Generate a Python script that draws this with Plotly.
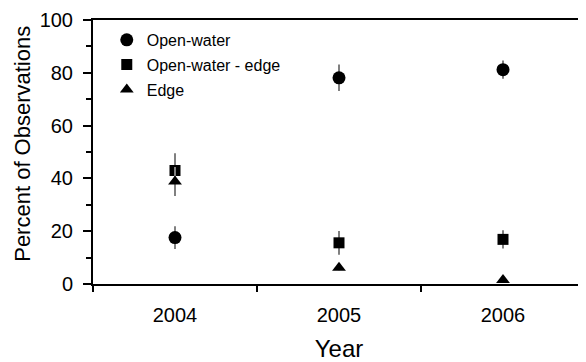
import plotly.graph_objects as go

years = [2004, 2005, 2006]
open_water = [17.6, 78.1, 81.2]
open_water_err = [4.3, 5.0, 3.5]
ow_edge = [43.0, 15.6, 16.9]
ow_edge_err = [6.5, 4.5, 3.5]
edge = [38.8, 6.2, 1.5]
edge_err = [5.5, 1.0, 0.8]

series = [
    ("Open-water", open_water, open_water_err, "circle", 13),
    ("Open-water - edge", ow_edge, ow_edge_err, "square", 11),
    ("Edge", edge, edge_err, "triangle-up", 12),
]

fig = go.Figure()
for i, (name, vals, errs, sym, sz) in enumerate(series):
    fig.add_trace(go.Scatter(
        x=years, y=vals, name=name, mode="markers",
        legendgroup=f"g{i}",
        marker=dict(symbol=sym, size=sz, color="black"),
        error_y=dict(type="data", array=errs, visible=True, color="#808080", thickness=2, width=0),
    ))

font = "Liberation Sans, Arial, Helvetica, sans-serif"
fig.update_layout(
    width=586, height=362,
    margin=dict(l=85, r=9, t=12, b=86, autoexpand=False),
    paper_bgcolor="white", plot_bgcolor="white",
    font=dict(family=font, color="black"),
    showlegend=True,
    legend=dict(x=0.028, y=0.989, xanchor="left", yanchor="top", bgcolor="rgba(0,0,0,0)",
                font=dict(size=16), tracegroupgap=1),
    xaxis=dict(
        range=[2003.5, 2006.5], tickvals=years, ticktext=[str(y) for y in years],
        ticks="outside", ticklen=0, tickfont=dict(size=20), ticklabelstandoff=12,
        showline=True, linecolor="black", linewidth=2, mirror=True, showgrid=False, zeroline=False,
        automargin=False,
        minor=dict(tick0=2003.5, dtick=1, ticks="outside", ticklen=6, tickwidth=2, tickcolor="black", showgrid=False),
        title=dict(text="Year", font=dict(size=24), standoff=15),
    ),
    yaxis=dict(
        range=[0, 100], dtick=20, ticks="outside", ticklen=8, tickwidth=2, tickcolor="black",
        tickfont=dict(size=20), ticklabelstandoff=6,
        showline=True, linecolor="black", linewidth=2, mirror=False,
        showgrid=False, zeroline=False, automargin=False,
        minor=dict(dtick=10, ticks="outside", ticklen=5, tickwidth=2, tickcolor="black", showgrid=False),
    ),
    shapes=[dict(type="line", xref="paper", yref="paper", x0=0.996, x1=0.996, y0=0, y1=1,
                 line=dict(color="#8a8a8a", width=1.5))],
    annotations=[dict(text="Percent of Observations", textangle=-90, xref="paper", yref="paper",
                      x=-0.1433, y=0.533, xanchor="center", yanchor="middle", showarrow=False,
                      font=dict(size=22))],
)
fig.write_html("out.html")
